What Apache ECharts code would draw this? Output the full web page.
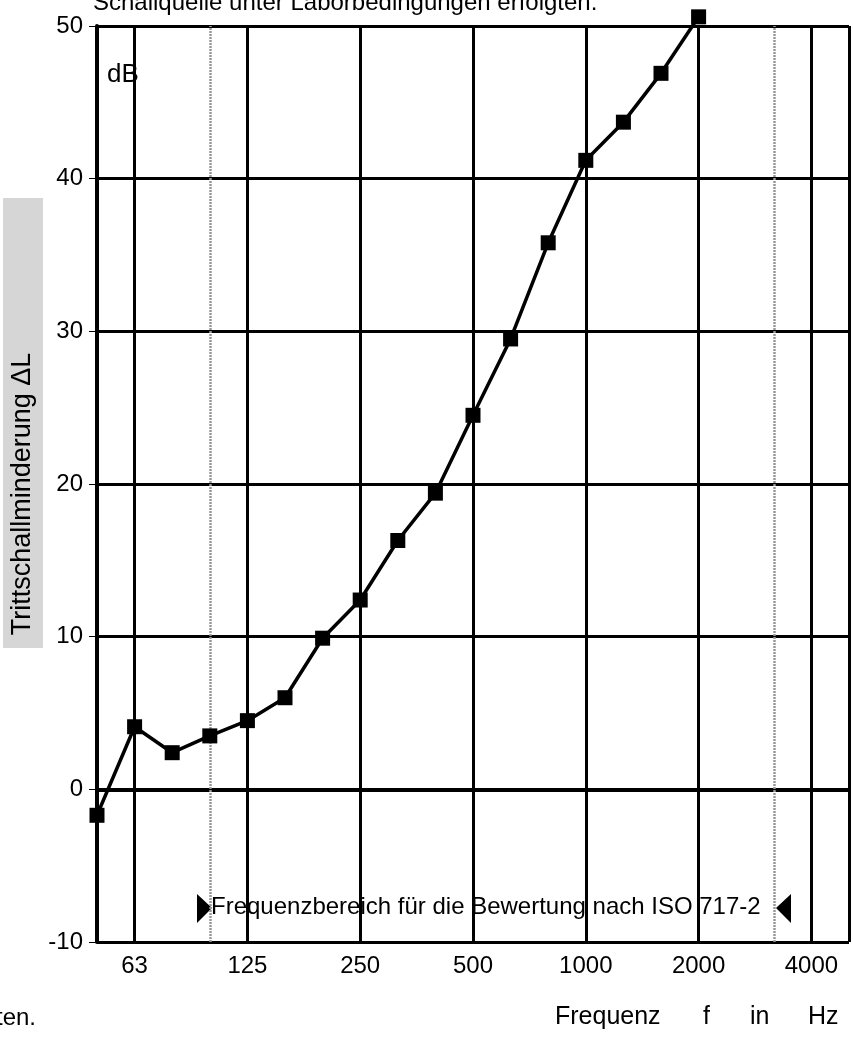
<!DOCTYPE html>
<html>
<head>
<meta charset="utf-8">
<script src="https://cdn.jsdelivr.net/npm/echarts@6/dist/echarts.min.js"></script>
<style>
    html, body { margin: 0; padding: 0; background: #fff; }
    #chart { width: 853px; height: 1037px; }
</style>
</head>
<body>
<div id="chart"></div>
<script>

/* ===========================
   Data
=========================== */

// third-octave band centre frequencies, 50 Hz .. 5000 Hz
const freqs = ["50", "63", "80", "100", "125", "160", "200", "250", "315", "400",
    "500", "630", "800", "1000", "1250", "1600", "2000", "2500", "3150", "4000", "5000"];

// octave bands that get a label and a black grid line
const octaveLabels = ["63", "125", "250", "500", "1000", "2000", "4000"];

// ISO 717-2 evaluation range limits (grey dotted lines)
const rangeLimits = ["100", "3150"];

// Trittschallminderung ΔL in dB, 50 Hz .. 2000 Hz
const deltaL = [-1.7, 4.1, 2.4, 3.5, 4.5, 6.0, 9.9, 12.4, 16.3, 19.4,
    24.5, 29.5, 35.8, 41.2, 43.7, 46.9, 50.6];

const yTicks = [-10, 0, 10, 20, 30, 40, 50];

const FONT = "Liberation Sans, Arial, sans-serif";

/* ===========================
   Chart
=========================== */

const chart = echarts.init(document.getElementById("chart"));

const isOctave = (idx) => octaveLabels.includes(freqs[idx]);

chart.setOption({

    animation: false,
    backgroundColor: "#fff",

    grid: {
        left: 97,
        right: 4,
        top: 26,
        bottom: 95
    },

    xAxis: {
        type: "category",
        boundaryGap: false,
        data: freqs,
        axisLine: {
            lineStyle: { color: "#000", width: 4 }
        },
        axisTick: {
            show: true,
            length: 11,
            interval: (idx) => isOctave(idx),
            lineStyle: { color: "#000", width: 2.5 }
        },
        axisLabel: {
            interval: (idx) => isOctave(idx),
            color: "#000",
            fontFamily: FONT,
            fontSize: 24,
            margin: 12
        },
        splitLine: {
            show: true,
            interval: (idx) => isOctave(idx) || idx === freqs.length - 1,
            lineStyle: { color: "#000", width: 3 }
        }
    },

    yAxis: {
        type: "value",
        min: yTicks[0],
        max: yTicks[yTicks.length - 1],
        interval: 10,
        axisLine: {
            show: true,
            lineStyle: { color: "#000", width: 4 }
        },
        axisTick: {
            show: true,
            length: 8,
            lineStyle: { color: "#000", width: 1 }
        },
        axisLabel: {
            color: "#000",
            fontFamily: FONT,
            fontSize: 24,
            margin: 14
        },
        splitLine: {
            lineStyle: { color: "#000", width: 3 }
        }
    },

    series: [{
        type: "line",
        data: deltaL,
        clip: false,
        symbol: "rect",
        symbolSize: 15,
        itemStyle: { color: "#000" },
        lineStyle: { color: "#000", width: 3.5 },
        z: 5,
        markLine: {
            silent: true,
            symbol: "none",
            label: { show: false },
            lineStyle: { color: "#999", type: [2, 1], width: 2.5 },
            data: rangeLimits.map(f => ({ xAxis: f }))
        }
    }],

    graphic: [
        // cut-off caption line above the chart
        {
            type: "text", left: 93, top: -9,
            style: {
                text: "Schallquelle unter Laborbedingungen erfolgten.",
                fill: "#000", font: "24px " + FONT
            }
        },
        // cut-off caption line below
        {
            type: "text", left: -4, top: 1006,
            style: { text: "ten.", fill: "#000", font: "24px " + FONT }
        },
        // y axis title with grey background
        {
            type: "rect", left: 3, top: 198,
            shape: { width: 40, height: 450 },
            style: { fill: "#d6d6d6" }
        },
        {
            type: "text", x: 23, y: 494, rotation: Math.PI / 2,
            style: {
                text: "Trittschallminderung \u0394L",
                fill: "#000", font: "27px " + FONT,
                align: "center", verticalAlign: "middle"
            }
        },
        {
            type: "text", left: 107, top: 62,
            style: { text: "dB", fill: "#000", font: "26px " + FONT }
        },
        // evaluation range annotation
        {
            type: "polygon",
            shape: { points: [[197, 894], [197, 923], [212, 908]] },
            style: { fill: "#000" }
        },
        {
            type: "text", left: 211, top: 895,
            style: {
                text: "Frequenzbereich für die Bewertung nach ISO 717-2",
                fill: "#000", font: "24px " + FONT
            }
        },
        {
            type: "polygon",
            shape: { points: [[791, 894], [791, 923], [776, 908]] },
            style: { fill: "#000" }
        },
        // axis unit label
        {
            type: "text", left: 555, top: 1005,
            style: { text: "Frequenz", fill: "#000", font: "25px " + FONT }
        },
        {
            type: "text", left: 703, top: 1005,
            style: { text: "f", fill: "#000", font: "25px " + FONT }
        },
        {
            type: "text", left: 750, top: 1005,
            style: { text: "in", fill: "#000", font: "25px " + FONT }
        },
        {
            type: "text", left: 808, top: 1005,
            style: { text: "Hz", fill: "#000", font: "25px " + FONT }
        }
    ]

});

</script>
</body>
</html>
